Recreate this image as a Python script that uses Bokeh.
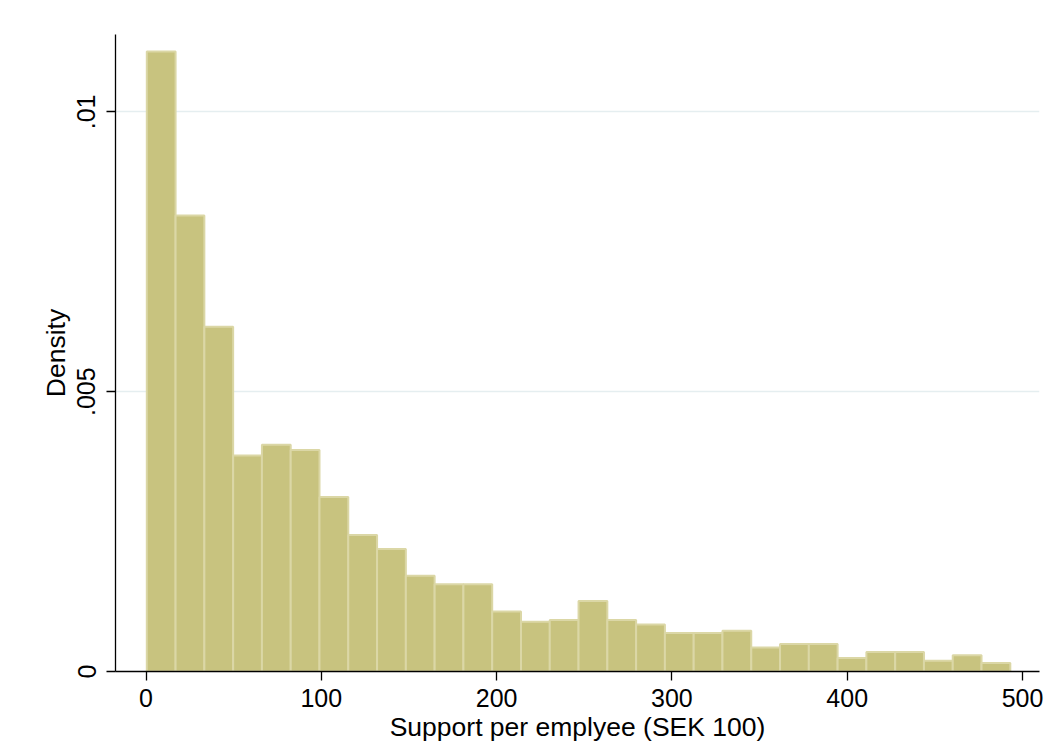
from bokeh.plotting import figure
from bokeh.models import FixedTicker, Range1d
from bokeh.embed import file_html
from bokeh.resources import INLINE

# Histogram data (density per bin)
bin_start = 0.45
bin_width = 16.42
density = [0.01108, 0.00815, 0.00616, 0.00386, 0.00405, 0.00396, 0.00312,
           0.00244, 0.00219, 0.00171, 0.00156, 0.00156, 0.00107, 0.00089,
           0.00092, 0.00126, 0.00092, 0.00084, 0.00069, 0.00069, 0.00073,
           0.00043, 0.00049, 0.00049, 0.00024, 0.00035, 0.00035, 0.00019,
           0.00029, 0.00015]

x_ticks = [0, 100, 200, 300, 400, 500]
y_ticks = [0, 0.005, 0.01]
y_tick_labels = {0: "0", 0.005: ".005", 0.01: ".01"}
x_title = "Support per emplyee (SEK 100)"
y_title = "Density"

lefts = [bin_start + i * bin_width for i in range(len(density))]
rights = [l + bin_width for l in lefts]

FONT = "Liberation Sans"

p = figure(width=1047, height=746, output_backend="svg", toolbar_location=None,
           x_range=Range1d(-17.4, 509.7), y_range=Range1d(0, 0.011382),
           min_border_left=115, min_border_right=8, min_border_top=34,
           min_border_bottom=75)
p.background_fill_color = "white"
p.border_fill_color = "white"
p.outline_line_color = None

p.quad(left=lefts, right=rights, top=density, bottom=0,
       fill_color="#c8c37f", line_color="#dbd7a6", line_width=2)

p.xgrid.grid_line_color = None
p.ygrid.grid_line_color = "#e5eef0"
p.ygrid.grid_line_width = 1.6

for ax in (p.xaxis[0], p.yaxis[0]):
    ax.axis_line_color = "black"
    ax.axis_line_width = 1.3
    ax.major_tick_line_color = "black"
    ax.major_tick_line_width = 1.3
    ax.major_tick_out = 9
    ax.major_tick_in = 0
    ax.minor_tick_line_color = None
    ax.major_label_text_font = FONT
    ax.major_label_text_font_size = "25px"
    ax.major_label_text_color = "black"
    ax.axis_label_text_font = FONT
    ax.axis_label_text_font_size = "26.5px"
    ax.axis_label_text_font_style = "normal"
    ax.axis_label_text_color = "black"

p.xaxis.ticker = FixedTicker(ticks=x_ticks)
p.yaxis.ticker = FixedTicker(ticks=y_ticks)
p.yaxis.major_label_overrides = y_tick_labels
p.yaxis.major_label_orientation = "vertical"
p.xaxis.axis_label = x_title
p.yaxis.axis_label = y_title
p.xaxis.major_label_standoff = 8
p.xaxis.axis_label_standoff = 2
p.yaxis.major_label_standoff = 11
p.yaxis.axis_label_standoff = 4

open("out.html", "w").write(file_html(p, INLINE))
